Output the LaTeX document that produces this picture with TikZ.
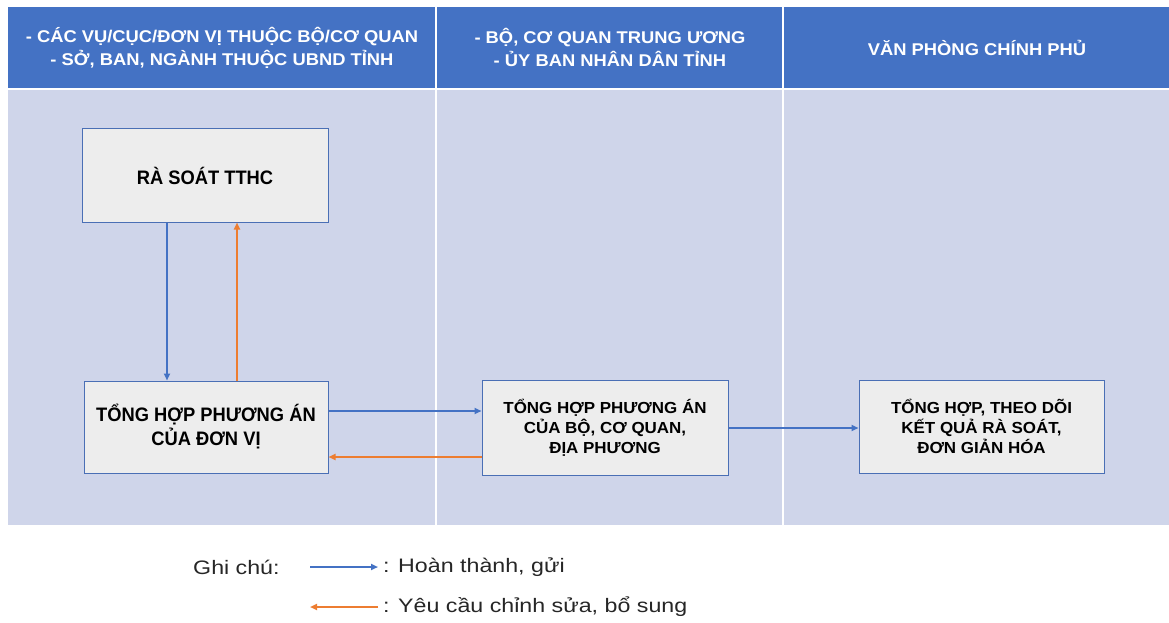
\documentclass[tikz,border=0pt]{standalone}
\usepackage{fontspec}
\setmainfont{Liberation Sans}
\newfontfamily\hdrAfont[FakeStretch=1.08]{Liberation Sans}
\newfontfamily\boxAfont[FakeStretch=0.94]{Liberation Sans}
\newfontfamily\boxBfont[FakeStretch=1.06]{Liberation Sans}
\newfontfamily\legfont[FakeStretch=1.19]{Liberation Sans}
\usetikzlibrary{arrows.meta}
\definecolor{hdr}{HTML}{4472C4}
\definecolor{bodybg}{HTML}{CFD5EA}
\definecolor{boxfill}{HTML}{EDEDED}
\definecolor{boxline}{HTML}{4A6FB5}
\definecolor{orng}{HTML}{ED7D31}
\definecolor{blu}{HTML}{4472C4}
\begin{document}
\begin{tikzpicture}[x=1pt,y=-1pt,
  hdrtext/.style={text=white,font=\hdrAfont\bfseries\fontsize{17}{23}\selectfont,align=center},
  stepbox/.style={draw=boxline,line width=1pt,fill=boxfill,align=center,inner sep=0pt,
    font=\boxAfont\bfseries\fontsize{19.5}{24}\selectfont},
  narrowbox/.style={stepbox,font=\boxBfont\bfseries\fontsize{16}{20}\selectfont},
  bluearrow/.style={draw=blu,line width=1.8pt,-{Triangle[length=7pt,width=6pt]}},
  orangearrow/.style={draw=orng,line width=1.8pt,-{Triangle[length=7pt,width=6pt]}},
  legtext/.style={font=\legfont\fontsize{19.5}{22}\selectfont,text=black!85}]
\useasboundingbox (0,0) rectangle (1169,623);
\fill[white] (0,0) rectangle (1169,623);
% header
\fill[hdr] (8,7) rectangle (1169,88);
% body
\fill[bodybg] (8,90) rectangle (1169,525);
% separators
\draw[white,line width=1.5pt] (436,7) -- (436,525);
\draw[white,line width=1.5pt] (783,7) -- (783,525);
\draw[white,line width=1.5pt] (8,89) -- (1169,89);
% header texts
\node[hdrtext] (h1) at (222,47.5) {- CÁC VỤ/CỤC/ĐƠN VỊ THUỘC BỘ/CƠ QUAN\\- SỞ, BAN, NGÀNH THUỘC UBND TỈNH};
\node[hdrtext] (h2) at (610,47.5) {- BỘ, CƠ QUAN TRUNG ƯƠNG\\- ỦY BAN NHÂN DÂN TỈNH};
\node[hdrtext] (h3) at (977,47.5) {VĂN PHÒNG CHÍNH PHỦ};
% boxes
\node[stepbox,minimum width=246pt,minimum height=93pt] (ra) at (205,175.5) {RÀ SOÁT TTHC};
\node[stepbox,minimum width=244pt,minimum height=92pt] (th) at (206,427) {TỔNG HỢP PHƯƠNG ÁN\\CỦA ĐƠN VỊ};
\node[narrowbox,minimum width=246pt,minimum height=95pt] (bo) at (605,427.5) {TỔNG HỢP PHƯƠNG ÁN\\CỦA BỘ, CƠ QUAN,\\ĐỊA PHƯƠNG};
\node[narrowbox,minimum width=245pt,minimum height=93pt] (vp) at (981.5,426.5) {TỔNG HỢP, THEO DÕI\\KẾT QUẢ RÀ SOÁT,\\ĐƠN GIẢN HÓA};
% helper coordinates
\coordinate (xa) at (167,0);
\coordinate (xb) at (237,0);
\coordinate (ya) at (0,411);
\coordinate (yb) at (0,457);
\coordinate (yc) at (0,428);
% connectors
\draw[bluearrow] (ra.south -| xa) -- (th.north -| xa);
\draw[orangearrow] (th.north -| xb) -- (ra.south -| xb);
\draw[bluearrow] (th.east |- ya) -- (bo.west |- ya);
\draw[orangearrow] (bo.west |- yb) -- (th.east |- yb);
\draw[bluearrow] (bo.east |- yc) -- (vp.west |- yc);
% legend
\node[legtext,anchor=west,inner sep=0pt] (gc) at (193,567) {Ghi chú:};
\coordinate (l1a) at (310,567);
\coordinate (l1b) at (378,567);
\coordinate (l2a) at (378,607);
\coordinate (l2b) at (310,607);
\draw[bluearrow] (l1a) -- (l1b);
\draw[orangearrow] (l2a) -- (l2b);
\node[legtext,anchor=west,inner sep=0pt] (lt1) at (383,567) {: Hoàn thành, gửi};
\node[legtext,anchor=west,inner sep=0pt] (lt2) at (383,607) {: Yêu cầu chỉnh sửa, bổ sung};
\end{tikzpicture}
\end{document}
